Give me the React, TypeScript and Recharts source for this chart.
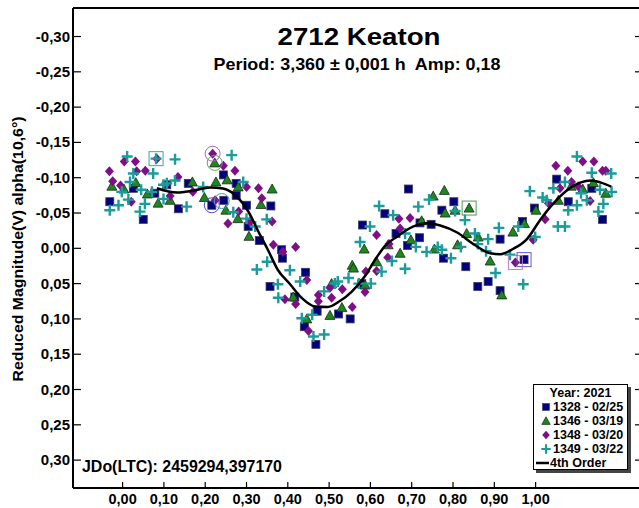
import { Legend, Scatter, ScatterChart, XAxis, YAxis } from "recharts";

const FONT = '"Liberation Sans", Arial, sans-serif';

// Rotational phase vs. reduced magnitude, one list per observing session
const session1328: [number, number][] = [
  [-0.031, -0.066], [0.026, -0.085], [0.05, -0.041], [0.078, -0.078], [0.107, -0.09],
  [0.135, -0.056], [0.159, -0.092], [0.216, -0.061], [0.245, -0.068], [0.244, -0.104],
  [0.275, -0.092], [0.275, -0.075], [0.3, -0.061], [0.359, -0.06], [0.304, -0.031],
  [0.331, -0.011], [0.385, 0.002], [0.387, 0.014], [0.443, 0.034], [0.357, 0.054],
  [0.417, 0.069], [0.471, 0.089], [0.44, 0.111], [0.468, 0.136], [0.523, 0.093],
  [0.551, 0.1], [0.581, -0.033], [0.579, 0.05], [0.635, -0.049], [0.692, -0.084],
  [0.662, -0.021], [0.719, -0.015], [0.69, -0.004], [0.72, -0.036], [0.747, -0.034],
  [0.773, -0.054], [0.802, -0.066], [0.777, 0.014], [0.831, 0.026], [0.914, -0.013],
  [0.86, 0.054], [0.885, 0.047], [0.914, 0.06], [0.972, 0.016], [0.968, -0.038],
  [0.997, -0.057], [1.051, -0.098], [1.079, -0.066], [1.136, -0.085], [1.162, -0.041],
];

const session1346: [number, number][] = [
  [-0.026, -0.088], [0.003, -0.084], [0.032, -0.093], [0.06, -0.077], [0.086, -0.064],
  [0.115, -0.068], [0.169, -0.094], [0.198, -0.072], [0.223, -0.121], [0.226, -0.094],
  [0.253, -0.097], [0.25, -0.054], [0.279, -0.042], [0.306, -0.017], [0.335, -0.062],
  [0.362, -0.084], [0.28, -0.087], [0.413, 0.069], [0.446, 0.1], [0.502, 0.095],
  [0.531, 0.084], [0.556, 0.024], [0.559, 0.028], [0.585, 0.001], [0.615, 0.019],
  [0.587, 0.052], [0.506, 0.05], [0.643, -0.005], [0.672, 0.007], [0.698, -0.012],
  [0.724, -0.039], [0.752, -0.074], [0.779, -0.082], [0.781, -0.05], [0.805, -0.054],
  [0.839, -0.057], [0.833, -0.021], [0.861, -0.016], [0.755, 0.001], [0.811, -0.005],
  [0.89, 0.018], [0.945, -0.023], [0.918, 0.066], [0.973, -0.035], [1.001, -0.054],
  [1.055, -0.068], [1.086, -0.088], [1.114, -0.084], [1.14, -0.093], [1.17, -0.078],
];

const session1348: [number, number][] = [
  [-0.032, -0.109], [-0.024, -0.095], [-0.005, -0.089], [0.004, -0.123], [0.031, -0.123],
  [0.034, -0.109], [0.055, -0.11], [0.021, -0.066], [0.083, -0.127], [0.134, -0.101],
  [0.115, -0.074], [0.17, -0.08], [0.218, -0.134], [0.244, -0.117], [0.272, -0.11],
  [0.3, -0.087], [0.329, -0.085], [0.337, -0.071], [0.255, -0.035], [0.281, -0.052],
  [0.308, -0.038], [0.362, -0.038], [0.365, -0.005], [0.388, 0.005], [0.419, -0.002],
  [0.224, -0.068], [0.446, 0.045], [0.419, 0.079], [0.393, 0.072], [0.474, 0.066],
  [0.474, 0.075], [0.506, 0.07], [0.502, 0.056], [0.532, 0.058], [0.556, 0.083],
  [0.587, 0.062], [0.589, 0.033], [0.615, -0.019], [0.615, 0.032], [0.45, 0.117],
  [0.645, -0.006], [0.642, 0.013], [0.669, -0.042], [0.696, -0.043], [0.672, -0.028],
  [0.951, 0.02], [1.049, -0.117], [1.078, -0.11], [1.059, -0.085], [1.087, -0.094],
  [1.103, -0.088], [1.114, -0.123], [1.141, -0.123], [1.162, -0.11], [1.17, -0.11],
  [1.132, -0.067], [1.023, -0.041], [0.994, -0.012], [1.031, -0.064],
];

const session1349: [number, number][] = [
  [0.011, -0.13], [-0.031, -0.054], [-0.01, -0.061], [0.026, -0.106], [0.018, -0.094],
  [-0.002, -0.08], [0.014, -0.069], [0.045, -0.083], [0.054, -0.063], [0.042, -0.052],
  [0.074, -0.106], [0.071, -0.08], [0.127, -0.126], [0.099, -0.09], [0.099, -0.07],
  [0.107, -0.092], [0.127, -0.096], [0.155, -0.059], [0.195, -0.087], [0.264, -0.132],
  [0.292, -0.094], [0.268, -0.051], [0.3, -0.042], [0.321, -0.031], [0.349, -0.041],
  [0.35, 0.019], [0.325, 0.03], [0.376, 0.051], [0.377, 0.07], [0.405, 0.031],
  [0.43, 0.047], [0.434, 0.099], [0.459, 0.094], [0.488, 0.061], [0.514, 0.05],
  [0.547, 0.042], [0.521, 0.047], [0.575, -0.009], [0.599, -0.031], [0.601, 0.05],
  [0.572, 0.05], [0.462, 0.125], [0.488, 0.122], [0.621, -0.06], [0.627, 0.033],
  [0.655, -0.047], [0.684, -0.021], [0.71, -0.002], [0.736, 0.005], [0.763, -0.002],
  [0.773, 0.002], [0.795, 0.014], [0.684, 0.029], [0.652, 0.018], [0.716, -0.059],
  [0.742, -0.069], [0.805, -0.053], [0.829, -0.04], [0.819, -0.002], [0.853, -0.021],
  [0.86, -0.006], [0.885, -0.013], [0.88, 0.004], [0.911, -0.029], [0.903, 0.035],
  [0.938, 0.009], [0.958, -0.031], [0.986, -0.081], [1.017, -0.072], [1.027, -0.068],
  [1.043, -0.085], [1.071, -0.094], [1.1, -0.13], [1.136, -0.107], [1.183, -0.106],
  [1.184, -0.08], [1.156, -0.083], [1.11, -0.078], [1.1, -0.061], [1.079, -0.054],
  [1.124, -0.068], [1.164, -0.063], [1.152, -0.052], [1.054, -0.031], [1.071, -0.031],
  [0.999, -0.016], [0.97, 0.051], [0.081, -0.127],
];

// Fourier fit (4th order) sampled along the phase
const fitCurve: [number, number][] = [
  [0.083, -0.085], [0.132, -0.079], [0.17, -0.0816], [0.212, -0.086], [0.243, -0.0846],
  [0.272, -0.0755], [0.304, -0.0525], [0.328, -0.0246], [0.352, 0.0024], [0.376, 0.0307],
  [0.405, 0.0505], [0.434, 0.0704], [0.466, 0.0824], [0.497, 0.0831], [0.526, 0.0747],
  [0.555, 0.0612], [0.587, 0.0393], [0.614, 0.0138], [0.635, -0.0032], [0.664, -0.0164],
  [0.703, -0.0306], [0.737, -0.0354], [0.769, -0.0323], [0.81, -0.0224], [0.849, -0.0061],
  [0.89, 0.0071], [0.914, 0.0085], [0.945, 0.001], [0.979, -0.0131], [1.011, -0.0402],
  [1.042, -0.0629], [1.074, -0.0813], [1.108, -0.0931], [1.134, -0.096], [1.158, -0.0931],
  [1.183, -0.0875],
];

// session starts marked with a ring / a box
const ringMarks = [
  { x: 0.218, y: -0.134, session: "1348" },
  { x: 0.223, y: -0.121, session: "1346" },
  { x: 0.216, y: -0.061, session: "1328" },
  { x: 0.24, y: -0.067, session: "1349" },
];
const boxMarks = [
  { x: 0.081, y: -0.127, session: "1349" },
  { x: 0.839, y: -0.057, session: "1346" },
  { x: 0.951, y: 0.02, session: "1348" },
  { x: 0.972, y: 0.016, session: "1328" },
];

const sessionLabels = ["1328 - 02/25", "1346 - 03/19", "1348 - 03/20", "1349 - 03/22"];
const phaseTicks = [0, 0.1, 0.2, 0.3, 0.4, 0.5, 0.6, 0.7, 0.8, 0.9, 1.0];
const magTicks = [-0.3, -0.25, -0.2, -0.15, -0.1, -0.05, 0, 0.05, 0.1, 0.15, 0.2, 0.25, 0.3];
const topTicks = [0, 1, 2, 3, 4, 5, 6, 7, 8, 9, 10, 11];

const toPoints = (arr: [number, number][]) => arr.map(([x, y]) => ({ x, y }));

const NAVY = "#00007f";
const GREEN = "#1d861d";
const PURPLE = "#7f0f86";
const TEAL = "#1b9c9c";

const ringColor: Record<string, string> = {
  "1328": "#4848c0",
  "1346": "#5fa85f",
  "1348": "#b060b8",
  "1349": "#3aa2b2",
};
const boxColor: Record<string, string> = {
  "1328": "#6a58c8",
  "1346": "#4c9c4c",
  "1348": "#c07ccc",
  "1349": "#3aa8a8",
};

const fmt = (v: number) => (Math.abs(v) < 1e-9 ? "0,00" : v.toFixed(2).replace(".", ","));

const SquareDot = ({ cx, cy }: any) => (
  <rect x={cx - 4} y={cy - 4} width={8} height={8} fill={NAVY} stroke="#3a3a5a" strokeWidth={0.8} />
);
const TriangleDot = ({ cx, cy }: any) => (
  <polygon
    points={`${cx},${cy - 5} ${cx + 5},${cy + 4} ${cx - 5},${cy + 4}`}
    fill={GREEN}
    stroke="#1a2a1a"
    strokeWidth={0.8}
  />
);
const DiamondDot = ({ cx, cy }: any) => (
  <polygon points={`${cx},${cy - 5} ${cx + 4.5},${cy} ${cx},${cy + 5} ${cx - 4.5},${cy}`} fill={PURPLE} />
);
const CrossDot = ({ cx, cy }: any) => (
  <path d={`M${cx - 5.5},${cy}H${cx + 5.5}M${cx},${cy - 5.5}V${cy + 5.5}`} stroke={TEAL} strokeWidth={2.4} />
);
const RingDot = ({ cx, cy, payload }: any) => (
  <circle cx={cx} cy={cy} r={7.5} fill="none" stroke={ringColor[payload.session]} strokeWidth={1} />
);
const BoxDot = ({ cx, cy, payload }: any) => (
  <rect x={cx - 7} y={cy - 7} width={14} height={14} fill="none" stroke={boxColor[payload.session]} strokeWidth={1} />
);
const NoDot = () => <g />;

const LEFT_MARGIN = 3;
const BOTTOM_MARGIN = 4;

const LeftTick = ({ x, y, payload }: any) => {
  const axisX = x + LEFT_MARGIN;
  return (
    <g>
      <line x1={axisX} x2={axisX + 8} y1={y} y2={y} stroke="#000" strokeWidth={1.2} />
      <text x={x} y={y + 5} textAnchor="end" fontFamily={FONT} fontWeight="bold" fontSize={15} fill="#000">
        {fmt(payload.value)}
      </text>
    </g>
  );
};
const RightTick = ({ x, y }: any) => <line x1={x - 8} x2={x} y1={y} y2={y} stroke="#000" strokeWidth={1.2} />;
const BottomTick = ({ x, y, payload }: any) => {
  const axisY = y - BOTTOM_MARGIN;
  return (
    <g>
      <line x1={x} x2={x} y1={axisY} y2={axisY - 6} stroke="#000" strokeWidth={1.2} />
      <text x={x} y={axisY + 16} textAnchor="middle" fontFamily={FONT} fontWeight="bold" fontSize={14.5} fill="#000">
        {fmt(payload.value)}
      </text>
    </g>
  );
};
const TopTick = ({ x, y }: any) => <line x1={x} x2={x} y1={y} y2={y + 7} stroke="#000" strokeWidth={1.2} />;

const legendMarks = [SquareDot, TriangleDot, DiamondDot, CrossDot];

const LegendBox = () => (
  <div
    style={{
      width: 95,
      height: 86,
      boxSizing: "border-box",
      border: "1px solid #000",
      background: "#fff",
      boxShadow: "3px 3px 0 #444",
      fontFamily: FONT,
      fontWeight: "bold",
      fontSize: 12.5,
      lineHeight: "14px",
      paddingTop: 1,
      color: "#000",
    }}
  >
    <div style={{ textAlign: "center" }}>Year: 2021</div>
    {sessionLabels.map((label, i) => {
      const Mark = legendMarks[i];
      return (
        <div key={label} style={{ display: "flex", alignItems: "center", height: 14 }}>
          <svg width={19} height={14} style={{ flex: "none" }}>
            <g transform="translate(12,7) scale(0.85)">
              <Mark cx={0} cy={0} />
            </g>
          </svg>
          <span>{label}</span>
        </div>
      );
    })}
    <div style={{ display: "flex", alignItems: "center", height: 14 }}>
      <svg width={16} height={14} style={{ flex: "none" }}>
        <line x1={2} x2={15} y1={7} y2={7} stroke="#000" strokeWidth={2.5} />
      </svg>
      <span>4th Order</span>
    </div>
  </div>
);

export default function App() {
  return (
    <div
      style={{ position: "fixed", left: 0, top: 0, width: 639, height: 508, overflow: "hidden", background: "#fff" }}
    >
      <ScatterChart width={660} height={508} margin={{ top: 0, right: 0, bottom: 0, left: 0 }}>
        <XAxis
          xAxisId="phase"
          dataKey="x"
          type="number"
          domain={[-0.1201, 1.26]}
          allowDataOverflow
          ticks={phaseTicks}
          interval={0}
          height={20}
          tickSize={0}
          tickMargin={BOTTOM_MARGIN}
          tickLine={false}
          axisLine={{ stroke: "#000", strokeWidth: 2 }}
          tick={<BottomTick />}
        />
        <XAxis
          xAxisId="top"
          orientation="top"
          type="number"
          domain={[-1.2425, 11.183]}
          allowDataOverflow
          ticks={topTicks}
          interval={0}
          height={8}
          tickSize={0}
          tickMargin={0}
          tickLine={false}
          axisLine={{ stroke: "#000", strokeWidth: 2 }}
          tick={<TopTick />}
        />
        <YAxis
          yAxisId="mag"
          dataKey="y"
          type="number"
          reversed
          domain={[-0.3404, 0.3395]}
          allowDataOverflow
          ticks={magTicks}
          interval={0}
          width={73}
          tickSize={0}
          tickMargin={LEFT_MARGIN}
          tickLine={false}
          axisLine={{ stroke: "#000", strokeWidth: 2 }}
          tick={<LeftTick />}
        />
        <YAxis
          yAxisId="right"
          orientation="right"
          type="number"
          reversed
          domain={[-0.3404, 0.3395]}
          allowDataOverflow
          ticks={magTicks}
          interval={0}
          width={17}
          tickSize={0}
          tickMargin={0}
          tickLine={false}
          axisLine={{ stroke: "#000", strokeWidth: 2 }}
          tick={<RightTick />}
        />

        <Scatter xAxisId="phase" yAxisId="mag" data={toPoints(session1328)} shape={SquareDot} isAnimationActive={false} />
        <Scatter xAxisId="phase" yAxisId="mag" data={toPoints(session1346)} shape={TriangleDot} isAnimationActive={false} />
        <Scatter xAxisId="phase" yAxisId="mag" data={toPoints(session1348)} shape={DiamondDot} isAnimationActive={false} />
        <Scatter xAxisId="phase" yAxisId="mag" data={toPoints(session1349)} shape={CrossDot} isAnimationActive={false} />
        <Scatter xAxisId="phase" yAxisId="mag" data={ringMarks} shape={RingDot} isAnimationActive={false} />
        <Scatter xAxisId="phase" yAxisId="mag" data={boxMarks} shape={BoxDot} isAnimationActive={false} />
        <Scatter
          xAxisId="phase"
          yAxisId="mag"
          data={toPoints(fitCurve)}
          shape={NoDot}
          line={{ stroke: "#000", strokeWidth: 2.5 }}
          lineJointType="monotoneX"
          isAnimationActive={false}
        />

        <text x={359} y={45} textAnchor="middle" fontFamily={FONT} fontWeight="bold" fontSize={23} textLength={163} lengthAdjust="spacingAndGlyphs">
          2712 Keaton
        </text>
        <text
          x={357}
          y={70}
          textAnchor="middle"
          fontFamily={FONT}
          fontWeight="bold"
          fontSize={16.5}
          textLength={287}
          lengthAdjust="spacingAndGlyphs"
          style={{ whiteSpace: "pre" }}
        >
          {"Period: 3,360 ± 0,001 h  Amp: 0,18"}
        </text>
        <text x={82} y={472} fontFamily={FONT} fontWeight="bold" fontSize={16} textLength={200} lengthAdjust="spacingAndGlyphs">
          JDo(LTC): 2459294,397170
        </text>
        <text
          transform="translate(23,249) rotate(-90)"
          textAnchor="middle"
          fontFamily={FONT}
          fontWeight="bold"
          fontSize={14}
          textLength={265}
          lengthAdjust="spacingAndGlyphs"
        >
          Reduced Magnitude(V) alpha(10,6°)
        </text>

        <Legend
          layout="vertical"
          align="center"
          verticalAlign="middle"
          content={<LegendBox />}
          wrapperStyle={{ left: 533, top: 384, width: 95, height: 86 }}
        />
      </ScatterChart>
    </div>
  );
}
